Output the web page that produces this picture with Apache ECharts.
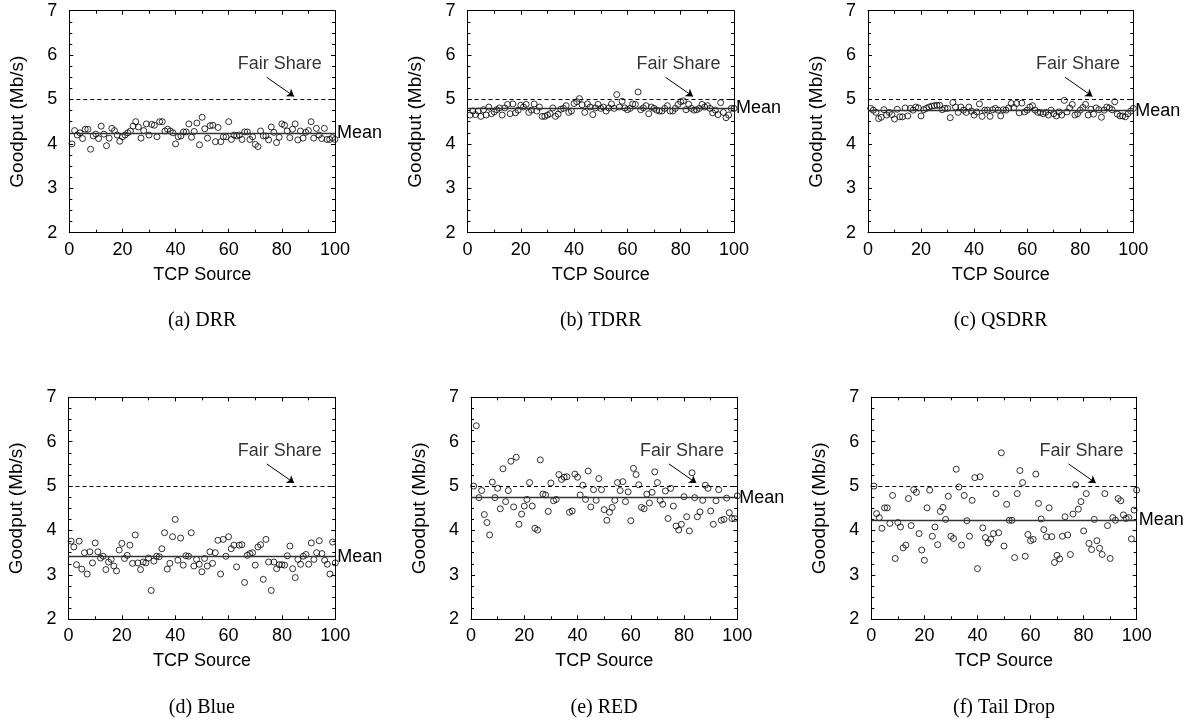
<!DOCTYPE html>
<html><head><meta charset="utf-8">
<script src="https://cdn.jsdelivr.net/npm/echarts@6/dist/echarts.min.js"></script>
<style>html,body{margin:0;padding:0;background:#fff}#c{width:1193px;height:724px}</style>
</head><body><div id="c"></div>
<script>
// ---- data ----
const sourceIds = [1,2,3,4,5,6,7,8,9,10,11,12,13,14,15,16,17,18,19,20,
  21,22,23,24,25,26,27,28,29,30,31,32,33,34,35,36,37,38,39,40,
  41,42,43,44,45,46,47,48,49,50,51,52,53,54,55,56,57,58,59,60,
  61,62,63,64,65,66,67,68,69,70,71,72,73,74,75,76,77,78,79,80,
  81,82,83,84,85,86,87,88,89,90,91,92,93,94,95,96,97,98,99,100];

const goodputDRR = [
  4.0,4.3,4.2,4.25,4.12,4.33,4.33,3.88,4.18,4.22,
  4.12,4.4,4.22,3.96,4.13,4.35,4.3,4.2,4.06,4.16,
  4.2,4.25,4.29,4.4,4.5,4.38,4.13,4.3,4.45,4.2,
  4.44,4.42,4.16,4.5,4.5,4.29,4.33,4.29,4.25,4.0,
  4.16,4.18,4.27,4.27,4.45,4.15,4.28,4.47,3.98,4.6,
  4.34,4.13,4.41,4.42,4.05,4.37,4.05,4.16,4.16,4.5,
  4.1,4.2,4.18,4.2,4.1,4.27,4.27,4.1,4.16,3.99,
  3.94,4.29,4.18,4.18,4.09,4.38,4.26,4.03,4.15,4.45,
  4.42,4.29,4.14,4.33,4.45,4.09,4.29,4.13,4.26,4.3,
  4.5,4.13,4.35,4.2,4.12,4.35,4.1,4.1,4.14,4.1];

const goodputTDRR = [
  4.65,4.74,4.66,4.74,4.62,4.77,4.65,4.83,4.68,4.72,
  4.77,4.81,4.65,4.81,4.89,4.68,4.9,4.7,4.76,4.87,
  4.83,4.89,4.71,4.76,4.9,4.74,4.83,4.62,4.62,4.65,
  4.68,4.81,4.62,4.67,4.78,4.8,4.86,4.71,4.74,4.91,
  4.95,5.02,4.88,4.71,4.9,4.83,4.66,4.81,4.89,4.8,
  4.83,4.74,4.81,4.9,4.8,5.11,4.83,4.96,4.81,4.77,
  4.8,4.9,4.89,5.17,4.77,4.81,4.86,4.68,4.83,4.8,
  4.76,4.74,4.74,4.8,4.86,4.74,4.74,4.8,4.89,4.95,
  4.97,4.77,4.89,4.8,4.76,4.77,4.8,4.89,4.83,4.86,
  4.8,4.7,4.76,4.66,4.93,4.71,4.59,4.65,4.8,4.8];

const goodputQSDRR = [
  4.8,4.76,4.71,4.57,4.6,4.77,4.65,4.71,4.66,4.56,
  4.78,4.61,4.61,4.81,4.63,4.8,4.76,4.83,4.81,4.63,
  4.77,4.8,4.83,4.85,4.86,4.87,4.87,4.77,4.8,4.8,
  4.59,4.93,4.83,4.71,4.83,4.76,4.71,4.83,4.74,4.65,
  4.72,4.9,4.62,4.76,4.76,4.62,4.77,4.8,4.76,4.63,
  4.77,4.76,4.81,4.91,4.82,4.91,4.7,4.92,4.72,4.76,
  4.83,4.86,4.76,4.71,4.71,4.68,4.71,4.65,4.76,4.68,
  4.63,4.72,4.65,4.98,4.72,4.81,4.89,4.65,4.68,4.76,
  4.82,4.89,4.65,4.78,4.67,4.81,4.77,4.6,4.76,4.83,
  4.81,4.77,4.95,4.67,4.63,4.63,4.61,4.68,4.74,4.8];

const goodputBlue = [
  3.76,3.63,3.23,3.76,3.13,3.5,3.02,3.52,3.27,3.72,
  3.52,3.38,3.42,3.12,3.29,3.35,3.2,3.09,3.56,3.71,
  3.37,3.44,3.67,3.26,3.9,3.27,3.12,3.29,3.27,3.38,
  2.65,3.31,3.42,3.41,3.59,3.95,3.13,3.26,3.86,4.25,
  3.33,3.83,3.22,3.43,3.42,3.95,3.2,3.35,3.24,3.07,
  3.37,3.2,3.52,3.26,3.5,3.78,3.02,3.8,3.42,3.86,
  3.59,3.67,3.18,3.67,3.68,2.83,3.44,3.48,3.5,3.22,
  3.63,3.68,2.9,3.8,3.29,2.65,3.29,3.14,3.23,3.23,
  3.22,3.43,3.65,3.14,2.94,3.35,3.24,3.42,3.46,3.24,
  3.72,3.35,3.5,3.77,3.48,3.33,3.24,3.02,3.74,3.27];

const goodputRED = [
  5.0,6.36,4.74,4.9,4.36,4.18,3.9,5.09,4.74,4.95,
  4.49,5.39,4.65,4.9,5.56,4.53,5.65,4.14,4.37,4.55,
  4.7,5.08,4.55,4.05,4.01,5.59,4.82,4.8,4.43,5.07,
  4.67,4.7,5.26,5.15,5.2,5.21,4.41,4.44,5.27,5.2,
  4.8,5.02,4.7,5.34,4.53,4.92,4.68,5.17,4.92,4.47,
  4.23,4.41,4.52,4.68,5.08,4.9,5.1,4.65,4.87,4.22,
  5.4,5.26,5.03,4.52,4.49,4.82,4.62,4.86,5.32,5.08,
  4.68,4.59,4.89,4.27,4.95,4.55,4.1,4.01,4.14,4.76,
  4.31,3.99,5.3,4.74,4.31,4.42,4.68,5.02,4.95,4.44,
  4.14,4.67,4.92,4.23,4.25,4.73,4.4,4.27,4.27,4.78];

const goodputTailDrop = [
  5.0,4.38,4.29,4.05,4.51,4.51,4.16,4.79,3.37,4.18,
  4.08,3.61,3.67,4.72,4.11,4.92,4.86,3.93,3.56,3.33,
  4.51,4.91,3.87,4.08,3.68,4.43,4.52,4.25,4.77,3.87,
  3.82,5.38,4.98,3.67,4.79,4.22,3.87,4.68,5.19,3.14,
  5.21,4.06,3.84,3.72,3.8,3.93,4.83,3.95,5.75,3.65,
  4.59,4.23,4.23,3.39,4.83,5.35,5.08,3.42,3.91,3.77,
  3.8,5.27,4.61,4.26,4.02,3.86,4.51,3.86,3.28,3.44,
  3.36,3.87,4.31,3.9,3.46,4.37,5.03,4.48,4.65,3.99,
  4.83,3.71,3.57,4.25,3.77,3.6,3.46,4.83,4.11,3.37,
  4.29,4.23,4.72,4.67,4.35,4.27,4.29,3.81,4.46,4.91];

const meanGoodput = [4.24, 4.80, 4.75, 3.41, 4.74, 4.23];
const fairShare = 5;
const captions = ['(a) DRR', '(b) TDRR', '(c) QSDRR', '(d) Blue', '(e) RED', '(f) Tail Drop'];
const xTickMin = 0, xTickMax = 100, xTickStep = 20;
const yTickMin = 2, yTickMax = 7, yTickStep = 1;
const xTitle = 'TCP Source';
const yTitle = 'Goodput (Mb/s)';
const fairShareLabel = 'Fair Share';
const meanLabel = 'Mean';
const fairShareLabelAt = [79.2, 5.8];
const fairShareArrowFrom = [74.3, 5.5];
const fairShareArrowTo = [84.6, 5.07];

// ---- layout ----
const seriesValues = [goodputDRR, goodputTDRR, goodputQSDRR, goodputBlue, goodputRED, goodputTailDrop];
const boxes = [
  {left: 69.3, top: 10.7, width: 265.7},
  {left: 467.5, top: 10.7, width: 266.5},
  {left: 868, top: 10.7, width: 265.3},
  {left: 68.5, top: 397.3, width: 266.8},
  {left: 471, top: 397.3, width: 266.3},
  {left: 871.3, top: 397.3, width: 265.4}
];
const H = 222;
const sans = '"Liberation Sans", Arial, Helvetica, sans-serif';
const serif = '"Liberation Serif", "Times New Roman", Times, serif';

const grids = [], xAxes = [], yAxes = [], series = [], graphics = [];
boxes.forEach((b, i) => {
  grids.push({left: b.left, top: b.top, width: b.width, height: H, containLabel: false});
  const lineCommon = {
    axisLine: {show: true, onZero: false, lineStyle: {color: '#000', width: 1}},
    axisTick: {show: true, inside: true, length: 4, lineStyle: {color: '#000', width: 1}},
    splitLine: {show: false}
  };
  const xBase = Object.assign({gridIndex: i, type: 'value', min: xTickMin, max: xTickMax, interval: xTickStep,
    minorTick: {show: true, splitNumber: 2, length: 3, lineStyle: {color: '#000', width: 1}}}, lineCommon);
  const yBase = Object.assign({gridIndex: i, type: 'value', min: yTickMin, max: yTickMax, interval: yTickStep,
    minorTick: {show: true, splitNumber: 4, length: 3, lineStyle: {color: '#000', width: 1}}}, lineCommon);
  xAxes.push(Object.assign({}, xBase, {
    position: 'bottom',
    axisLabel: {show: true, fontSize: 18, color: '#000', fontFamily: sans, margin: 8},
    name: xTitle, nameLocation: 'middle', nameGap: 33,
    nameTextStyle: {fontSize: 18, color: '#000', fontFamily: sans}
  }));
  xAxes.push(Object.assign({}, xBase, {position: 'top', axisLabel: {show: false}}));
  yAxes.push(Object.assign({}, yBase, {
    position: 'left',
    axisLabel: {show: true, fontSize: 18, color: '#000', fontFamily: sans, margin: 12},
    name: yTitle, nameLocation: 'middle', nameGap: 42, nameRotate: 90,
    nameTextStyle: {fontSize: 19, color: '#000', fontFamily: sans}
  }));
  yAxes.push(Object.assign({}, yBase, {position: 'right', axisLabel: {show: false}}));

  const vals = seriesValues[i];
  series.push({
    type: 'scatter', xAxisIndex: 2 * i, yAxisIndex: 2 * i, silent: true, z: 3,
    data: sourceIds.map((x, k) => [x, vals[k]]),
    symbol: 'circle', symbolSize: 6,
    itemStyle: {color: 'rgba(0,0,0,0)', borderColor: '#000', borderWidth: 1},
    markLine: {
      silent: true, symbol: 'none', animation: false,
      data: [
        {yAxis: fairShare, lineStyle: {type: [4, 3], color: '#000', width: 1}, label: {show: false}},
        {yAxis: meanGoodput[i], lineStyle: {type: 'solid', color: '#333', width: 1.3},
         label: {show: true, position: 'end', formatter: meanLabel, distance: 2, fontSize: 18, color: '#000', fontFamily: sans}},
        [{coord: fairShareArrowFrom, symbol: 'none', lineStyle: {type: 'solid', color: '#000', width: 1}, label: {show: false}},
         {coord: fairShareArrowTo, symbol: 'arrow', symbolSize: 7}]
      ]
    }
  });
  series.push({
    type: 'scatter', xAxisIndex: 2 * i, yAxisIndex: 2 * i, silent: true,
    data: [fairShareLabelAt], symbolSize: 1,
    itemStyle: {color: 'rgba(0,0,0,0)'},
    label: {show: true, position: 'inside', formatter: fairShareLabel, fontSize: 18, color: '#000', fontFamily: sans}
  });
  graphics.push({
    type: 'text', x: b.left + b.width / 2, y: b.top + H + 88,
    style: {text: captions[i], font: '20px ' + serif, fill: '#000', align: 'center', verticalAlign: 'middle'}
  });
});

const chart = echarts.init(document.getElementById('c'), null, {renderer: 'canvas'});
chart.setOption({
  animation: false,
  backgroundColor: '#fff',
  grid: grids, xAxis: xAxes, yAxis: yAxes, series: series, graphic: graphics
});
</script></body></html>
